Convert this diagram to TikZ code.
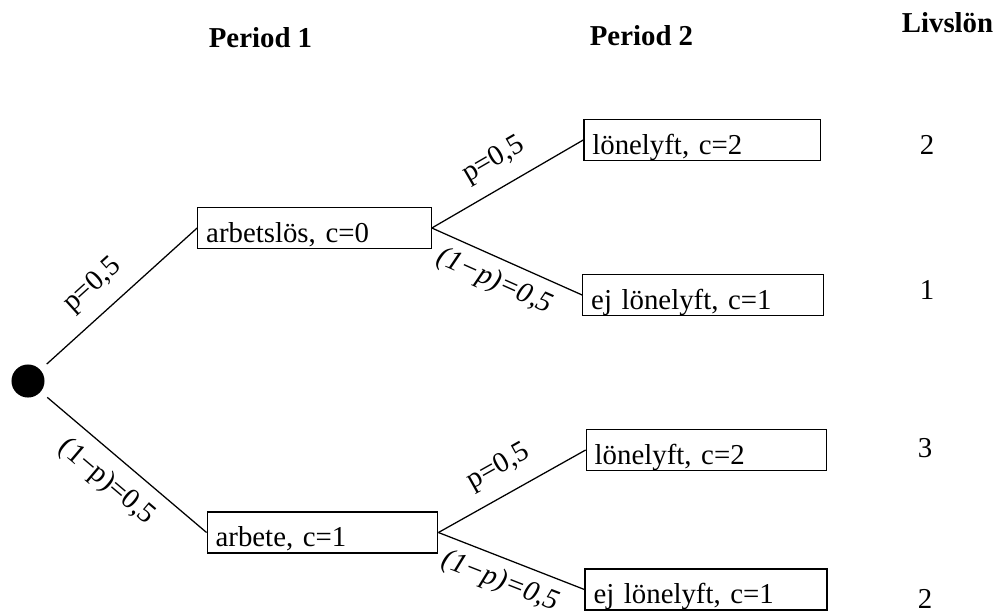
\documentclass[tikz,border=0pt]{standalone}
\usepackage{fontspec}
\setmainfont{Liberation Serif}

\begin{document}
\begin{tikzpicture}[x=0.025cm, y=-0.025cm,
  font=\fontsize{20.5}{24}\selectfont,
  state/.style={draw, line width=0.9pt, text width=#1, align=left,
    inner xsep=6pt, inner ysep=0pt, text height=24.6pt, text depth=4.6pt},
  branch/.style={line width=0.9pt},
  prob/.style={sloped, inner sep=0pt},
  wage/.style={inner sep=0pt},
  head/.style={font=\fontsize{20.5}{24}\selectfont\bfseries, anchor=base}]

  \useasboundingbox (0,0) rectangle (997,612);

  % column heads
  \node[head] (h1) at (260.5,47) {Period 1};
  \node[head] (h2) at (641.5,45) {Period 2};
  \node[head] (h3) at (947.5,32) {Livslön};

  % root
  \node[circle, fill, inner sep=0pt, minimum size=23.5pt] (root) at (28,381) {};

  % period 1
  \node[state=154pt] (arb) at (314.5,228) {arbetslös, c=0};
  \node[state=152pt] (job) at (322.5,532.5) {arbete, c=1};

  % period 2
  \node[state=156pt] (up1) at (702,140) {lönelyft, c=2};
  \node[state=159pt] (no1) at (703,295) {ej lönelyft, c=1};
  \node[state=159pt] (up2) at (706.5,450) {lönelyft, c=2};
  \node[state=160pt] (no2) at (706,589.5) {ej lönelyft, c=1};

  % lifetime wage
  \node[wage] (w1) at (927,145) {2};
  \node[wage] (w2) at (927,290) {1};
  \node[wage] (w3) at (925,448) {3};
  \node[wage] (w4) at (925,599) {2};

  % branches
  \draw[branch, shorten <=6pt] (root) -- (arb.west)
    node[prob, pos=0.45, above=10pt] {p=0,5};
  \draw[branch, shorten <=6pt] (root) -- (job.west)
    node[prob, pos=0.5, below=9pt] {(1−p)=0,5};

  \draw[branch] (arb.east) -- (up1.west)
    node[prob, pos=0.5, above=10pt] {p=0,5};
  \draw[branch] (arb.east) -- (no1.west)
    node[prob, pos=0.48, below=7pt] {\itshape (1−p)=0,5};

  \draw[branch] (job.east) -- (up2.west)
    node[prob, pos=0.5, above=10pt] {p=0,5};
  \draw[branch] (job.east) -- (no2.west)
    node[prob, pos=0.48, below=7pt] {\itshape (1−p)=0,5};

\end{tikzpicture}
\end{document}
